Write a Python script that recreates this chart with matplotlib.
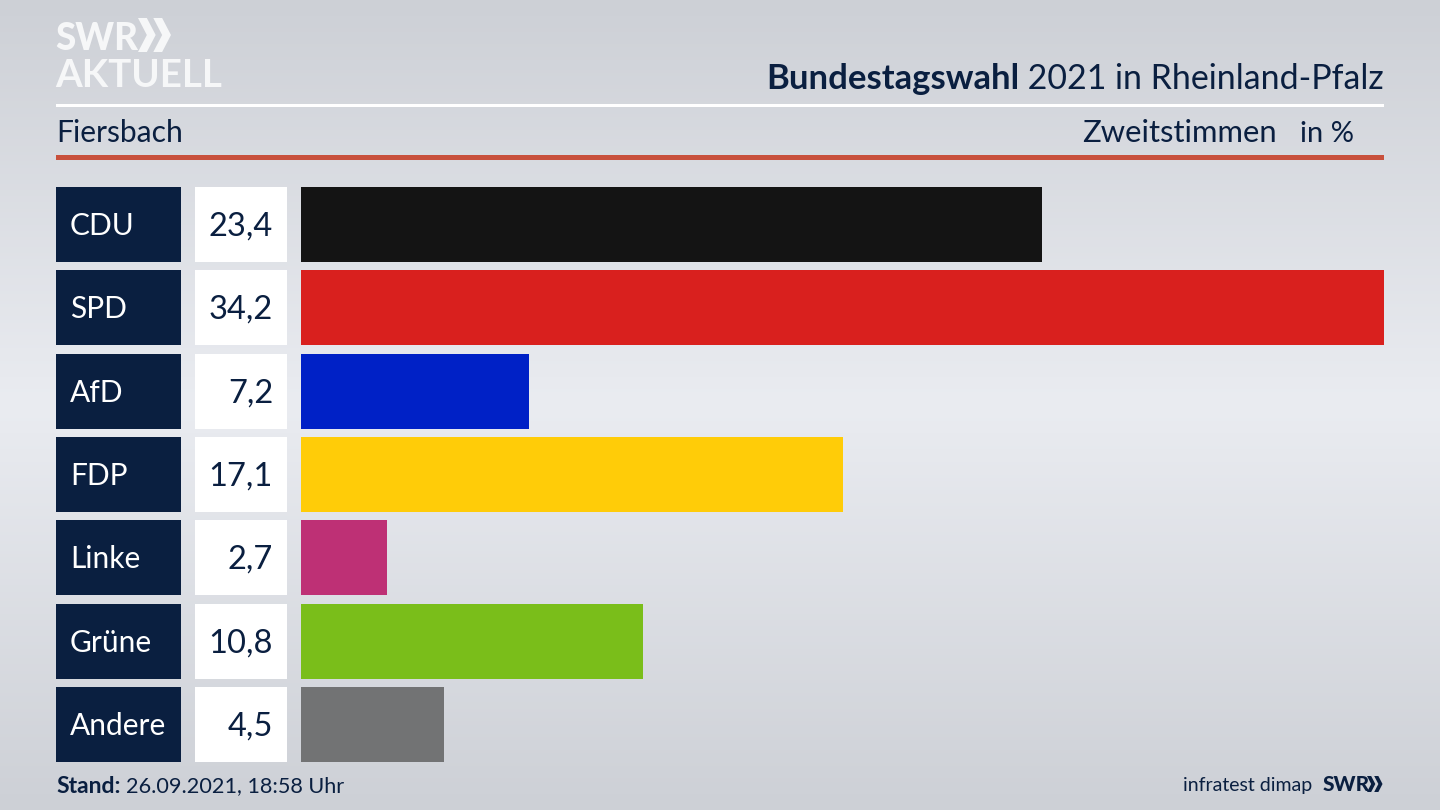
import matplotlib
matplotlib.use('Agg')
import matplotlib.pyplot as plt
import numpy as np
from matplotlib.colors import LinearSegmentedColormap
from matplotlib.patches import Polygon, Rectangle

parties = ['CDU', 'SPD', 'AfD', 'FDP', 'Linke', 'Grüne', 'Andere']
values = [23.4, 34.2, 7.2, 17.1, 2.7, 10.8, 4.5]
value_labels = ['23,4', '34,2', '7,2', '17,1', '2,7', '10,8', '4,5']
colors = ['#141414', '#D9201E', '#0021C6', '#FFCC08', '#BE3075', '#7ABE1A', '#727374']

NAVY = '#0A1F40'
LOGO = '#F6F7F8'
plt.rcParams['font.family'] = 'Lato'

fig = plt.figure(figsize=(14.4, 8.1), dpi=100)

# background and everything around the bars, in pixel coordinates
bg = fig.add_axes([0, 0, 1, 1])
bg.set_xlim(0, 1440)
bg.set_ylim(810, 0)
bg.axis('off')
cmap = LinearSegmentedColormap.from_list('bg', ['#CDD0D6', '#EAECF1', '#CDD0D6'])
grad = np.linspace(0, 1, 256).reshape(-1, 1)
bg.imshow(grad, cmap=cmap, extent=(0, 1440, 810, 0), aspect='auto', zorder=0)


def chevrons(x, y, h, color):
    t = h * 0.26
    w = h * 0.26
    for dx in (0, h * 0.45):
        pts = [(x + dx, y), (x + dx + t, y), (x + dx + t + w, y + h / 2),
               (x + dx + t, y + h), (x + dx, y + h), (x + dx + w, y + h / 2)]
        bg.add_patch(Polygon(pts, closed=True, color=color, lw=0, zorder=3))


# logo
bg.text(55, 50, 'SWR', color=LOGO, fontsize=26.5, fontweight='black', ha='left')
chevrons(138, 18, 34, LOGO)
bg.text(55, 87, 'AKTUELL', color=LOGO, fontsize=27.7, fontweight='bold', ha='left')

# header
bg.add_patch(Rectangle((56, 104), 1328, 3, color='white', lw=0, zorder=2))
bg.add_patch(Rectangle((56, 155), 1328, 5, color='#C8503C', lw=0, zorder=2))
title = bg.text(1384, 89, ' 2021 in Rheinland-Pfalz', color=NAVY, fontsize=24.4, ha='right')
bg.annotate('Bundestagswahl', xy=(0, 89), xycoords=(title, 'data'), color=NAVY, fontsize=24.9,
            fontweight='bold', ha='right', va='baseline')
bg.text(56, 142, 'Fiersbach', color=NAVY, fontsize=21.6, ha='left')
bg.text(1277, 142, 'Zweitstimmen', color=NAVY, fontsize=22.3, ha='right')
bg.text(1354, 142, 'in %', color=NAVY, fontsize=21, ha='right')

# footer
bg.text(56, 793, 'Stand:', color=NAVY, fontsize=16.5, fontweight='bold', ha='left')
bg.text(126, 792, '26.09.2021, 18:58 Uhr', color=NAVY, fontsize=15.6, ha='left')
bg.text(1312, 791, 'infratest dimap', color=NAVY, fontsize=14, ha='right')
bg.text(1323, 791, 'SWR', color=NAVY, fontsize=15, fontweight='black', ha='left')
chevrons(1367, 776, 16, NAVY)

# bars
ax = fig.add_axes([301 / 1440, 1 - 766 / 810, 1083 / 1440, 583 / 810])
ax.patch.set_alpha(0)
rows = np.arange(len(parties))
ax.barh(rows, values, height=0.9, color=colors)
ax.set_xlim(0, 34.2)
ax.set_ylim(6.5, -0.5)
ax.axis('off')

# party and value boxes next to the bars
for i, (party, label) in enumerate(zip(parties, value_labels)):
    top = 187 + i * 83.33
    bg.add_patch(Rectangle((56, top), 125, 75, color=NAVY, lw=0, zorder=2))
    bg.add_patch(Rectangle((195, top), 92, 75, color='white', lw=0, zorder=2))
    bg.text(70, top + 48, party, color='white', fontsize=21.5, ha='left', zorder=3)
    bg.text(273, top + 48.5, label, color=NAVY, fontsize=23.5, ha='right', zorder=3)

fig.savefig('out.png', dpi=100)
